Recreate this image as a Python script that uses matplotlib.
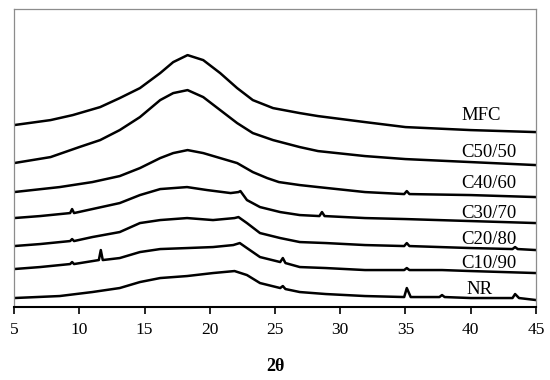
import matplotlib
matplotlib.use("Agg")
import matplotlib.pyplot as plt

plt.rcParams['font.family'] = ['Liberation Serif', 'DejaVu Serif']

# 2theta (deg) and intensity (a.u., stacked)
mfc_x = [5, 7.8, 9.5, 11.6, 13.1, 14.65, 16.2, 17.2, 18.3, 19.5, 20.8, 22.1, 23.3, 24.85, 26.9, 28.3, 31.9, 35, 40, 45]
mfc_y = [182, 187, 192, 200, 209, 219, 234, 245, 252, 247, 234, 219, 207, 199, 194, 191, 185, 180, 177, 175]

c5050_x = [5, 7.8, 10, 11.6, 13.1, 14.65, 16.2, 17.2, 18.3, 19.5, 20.8, 22.1, 23.3, 24.85, 26.9, 28.3, 31.9, 35, 40, 45]
c5050_y = [144, 150, 160, 167, 177, 190, 207, 214, 217, 210, 197, 184, 174, 167, 160, 156, 151, 148, 145, 142]

c4060_x = [5, 8.5, 11, 13.1, 14.65, 16.2, 17.2, 18.3, 19.5, 20.8, 22.1, 23.3, 24.4, 25.3, 26.9, 28.3, 31.9,
           34.9, 35.1, 35.3, 40, 45]
c4060_y = [115, 120, 125, 131, 139, 149, 154, 157, 154, 149, 144, 135, 129, 125, 122, 120, 115,
           113, 116, 113, 112, 110]

c3070_x = [5, 7, 9.3, 9.45, 9.6, 11, 13.1, 14.65, 16.2, 18.26, 19.8, 21.6, 22.2, 22.35, 22.85, 23.85, 25.4,
           26.9, 28.4, 28.6, 28.8, 31.9, 35, 40, 45]
c3070_y = [89, 91, 94, 98, 94, 98, 104, 112, 118, 120, 117, 114, 115, 116, 107, 100, 95,
           92, 91, 95, 91, 89, 88, 86, 84]

c2080_x = [5, 7, 9.3, 9.45, 9.6, 11, 13.1, 14.65, 16.2, 18.26, 20.25, 21.9, 22.2, 22.85, 23.85, 25.4, 26.9,
           28.9, 31.9, 34.9, 35.1, 35.3, 40, 43.2, 43.4, 43.6, 45]
c2080_y = [61, 63, 66, 68, 66, 70, 75, 84, 87, 89, 87, 89, 90, 84, 74, 69, 65,
           64, 62, 61, 64, 61, 59, 58, 60, 58, 57]

c1090_x = [5, 7, 9.3, 9.45, 9.6, 11.5, 11.65, 11.8, 13.1, 14.65, 16.2, 18.26, 20.25, 21.8, 22.3, 22.85, 23.85,
           25.4, 25.6, 25.8, 26.9, 28.9, 31.9, 34.9, 35.1, 35.3, 37.8, 40, 45]
c1090_y = [38, 40, 43, 45, 43, 47, 57, 47, 49, 55, 58, 59, 60, 62, 64, 59, 50,
           45, 49, 44, 40, 39, 37, 37, 39, 37, 37, 36, 34]

nr_x = [5, 8.5, 11, 13.1, 14.65, 16.2, 18.26, 20.25, 21.9, 22.85, 23.85, 25.4, 25.6, 25.8, 26.9, 28.9, 31.9,
        34.9, 35.1, 35.4, 37.6, 37.8, 38, 40, 43.2, 43.4, 43.7, 45]
nr_y = [9, 11, 15, 19, 25, 29, 31, 34, 36, 32, 24, 19, 21, 18, 15, 13, 11,
        10, 19, 10, 10, 12, 10, 9, 9, 13, 9, 7]

series = [(mfc_x, mfc_y), (c5050_x, c5050_y), (c4060_x, c4060_y), (c3070_x, c3070_y),
          (c2080_x, c2080_y), (c1090_x, c1090_y), (nr_x, nr_y)]

labels = ['MFC', 'C50/50', 'C40/60', 'C30/70', 'C20/80', 'C10/90', 'NR']
label_x = [39.3, 39.3, 39.3, 39.3, 39.3, 39.3, 39.7]
label_y = [192, 155, 124, 94, 68, 44, 18]

fig = plt.figure(figsize=(5.5, 3.8), dpi=100)
ax = fig.add_axes([0.0255, 0.192, 0.949, 0.784])

for x, y in series:
    ax.plot(x, y, color='black', linewidth=1.8, solid_joinstyle='round')

for lab, lx, ly in zip(labels, label_x, label_y):
    ax.text(lx, ly, lab, fontsize=13.5, ha='left', va='center')

ax.set_xlim(5, 45)
ax.set_ylim(0, 298)
ax.set_xticks(range(5, 50, 5))
ax.set_yticks([])
ax.tick_params(axis='x', direction='out', length=5, width=1.2, labelsize=12.5, pad=6)

for side in ['left', 'top', 'right']:
    ax.spines[side].set_color('#8c8c8c')
    ax.spines[side].set_linewidth(0.9)
ax.spines['bottom'].set_color('black')
ax.spines['bottom'].set_linewidth(1.5)

ax.set_xlabel('2θ', fontsize=13, fontweight='bold', labelpad=14)

fig.savefig('out.png', dpi=100)
